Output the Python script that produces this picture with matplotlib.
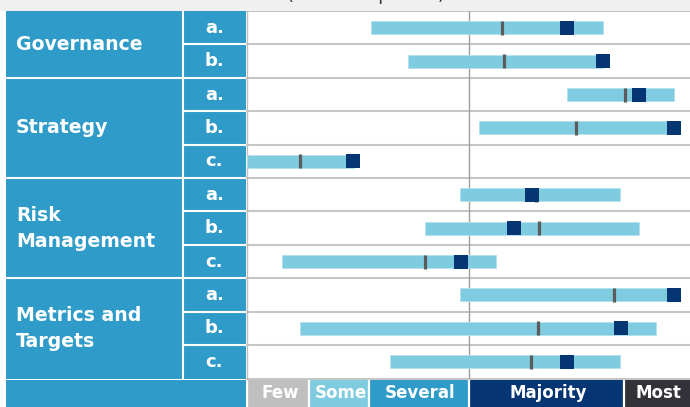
import matplotlib
matplotlib.use("Agg")
import numpy as np
import matplotlib.pyplot as plt
from matplotlib.patches import Rectangle

plt.rcParams["font.family"] = ["DejaVu Sans"]

W, H = 690, 407

# Pillars and their disclosure items
categories = ["Governance", "Strategy", "Risk\nManagement", "Metrics and\nTargets"]
items = [["a.", "b."], ["a.", "b.", "c."], ["a.", "b.", "c."], ["a.", "b.", "c."]]

# Share of companies (%) per item: range, median and highlighted value
range_low = [28.1, 36.3, 72.3, 52.3, 0.0, 48.0, 40.1, 7.9, 48.0, 11.9, 32.2]
range_high = [80.3, 80.3, 96.4, 96.4, 24.1, 84.2, 88.5, 56.1, 96.4, 92.3, 84.2]
median = [57.5, 58.1, 85.4, 74.3, 11.9, 65.2, 66.0, 40.1, 82.9, 65.8, 64.2]
highlight = [72.2, 80.3, 88.5, 96.4, 24.0, 64.4, 60.3, 48.3, 96.4, 84.4, 72.3]

# Verbal scale shown along the bottom
scale_labels = ["Few", "Some", "Several", "Majority", "Most"]
scale_edges = [0, 14, 27.5, 50, 85, 100]

BLUE = "#2e9bc8"
LIGHT = "#7fcbe0"
NAVY = "#053573"
TICK = "#5b5b5b"
scale_colors = ["#bfbfbf", LIGHT, BLUE, NAVY, "#323238"]


def box(x0, y0, x1, y1):
    return [x0 / W, 1 - y1 / H, (x1 - x0) / W, (y1 - y0) / H]


fig = plt.figure(figsize=(W / 100, H / 100), dpi=100, facecolor="white")
fig.patches.append(Rectangle((0, 1 - 10.5 / H), 1, 10.5 / H, transform=fig.transFigure,
                             facecolor="#f0f0f0", edgecolor="none", zorder=0))
fig.text(366 / W, 1.0, "(% of companies)", ha="center", va="baseline",
         fontsize=13, color="#333333")

n_rows = len(range_low)
y = np.arange(n_rows) + 0.5

# Main range chart
ax = fig.add_axes(box(247, 11, 690, 378.5))
ax.set_xlim(0, 100)
ax.set_ylim(n_rows, 0)
for b in range(n_rows + 1):
    ax.axhline(b, color="#c6c6c6", lw=1.5, zorder=1, clip_on=False)
ax.axvline(50, color="#9e9e9e", lw=1.0, zorder=2)
lo = np.array(range_low)
hi = np.array(range_high)
ax.barh(y, hi - lo, left=lo, height=0.39, color=LIGHT, edgecolor="#b3e1ee",
        linewidth=0.6, zorder=3)
ax.plot(median, y, ls="none", marker="|", ms=9.5, mew=2.3, color=TICK, zorder=4)
ax.plot(highlight, y, ls="none", marker="s", ms=9.4, mew=0, color=NAVY, zorder=5)
ax.set_xticks([])
ax.set_yticks([])
for s in ["top", "right", "bottom"]:
    ax.spines[s].set_visible(False)
ax.spines["left"].set_color("#c0c0c0")
ax.spines["left"].set_linewidth(1.0)

# Label table on the left
tab = fig.add_axes(box(6, 11, 246, 378.5))
tab.set_xlim(0, 240)
tab.set_ylim(n_rows, 0)
tab.set_facecolor(BLUE)
tab.axis("off")
tab.add_patch(Rectangle((0, 0), 240, n_rows, facecolor=BLUE, edgecolor="none", zorder=0))
col_x = 176.5
tab.plot([col_x, col_x], [0, n_rows], color="white", lw=1.5, zorder=2)
start = 0
for cat, its in zip(categories, items):
    end = start + len(its)
    tab.text(10, (start + end) / 2, cat, ha="left", va="center", fontsize=13.6,
             fontweight="bold", color="white", linespacing=1.45)
    for k, lab in enumerate(its):
        tab.text((col_x + 240) / 2, start + k + 0.5, lab, ha="center", va="center",
                 fontsize=13, fontweight="bold", color="white")
        if k > 0:
            tab.plot([col_x, 240], [start + k, start + k], color="white", lw=1.5, zorder=2)
    if end < n_rows:
        tab.plot([0, 240], [end, end], color="white", lw=1.5, zorder=2)
    start = end

# Scale legend along the bottom
leg_left = fig.add_axes(box(6, 380, 246, 407))
leg_left.set_facecolor(BLUE)
leg_left.set_xticks([])
leg_left.set_yticks([])
for s in leg_left.spines.values():
    s.set_visible(False)

leg = fig.add_axes(box(247, 380, 690, 407))
leg.set_xlim(0, 100)
leg.set_ylim(0, 1)
edges = np.array(scale_edges)
leg.barh(0.5, np.diff(edges), left=edges[:-1], height=1, color=scale_colors,
         edgecolor="none")
leg.vlines(edges[:-1], 0, 1, color="white", lw=1.6)
for lab, a, b in zip(scale_labels, edges[:-1], edges[1:]):
    leg.text((a + b) / 2 + 0.4, 0.5, lab, ha="center", va="center", fontsize=12,
             fontweight="bold", color="white")
leg.axis("off")

fig.savefig("out.png", dpi=100)
